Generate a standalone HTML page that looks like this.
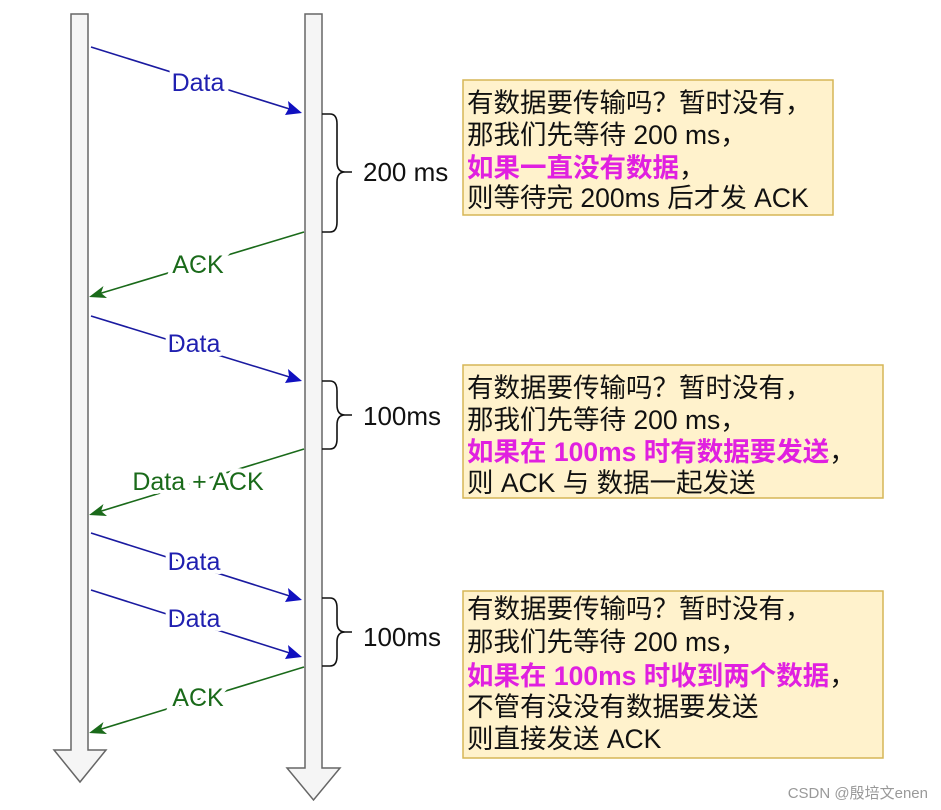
<!DOCTYPE html>
<html><head><meta charset="utf-8"><style>
html,body{margin:0;padding:0;background:#fff;}
svg{display:block;}
.lbl{font-family:"Liberation Sans",sans-serif;font-size:25px;text-anchor:middle;paint-order:stroke;stroke:#fff;stroke-width:8px;}
.t{font-family:"Liberation Sans","Noto Sans CJK SC",sans-serif;font-size:26.5px;fill:#111;}
.m{fill:#e020e0;font-weight:bold;}
.ms{font-family:"Liberation Sans",sans-serif;font-size:26px;fill:#111;}
</style></head><body>
<svg width="941" height="810" viewBox="0 0 941 810" xmlns="http://www.w3.org/2000/svg">
<!-- lifelines -->
<path d="M71,14 H88 V750 H106 L80,782 L54,750 H71 Z" fill="#f5f5f5" stroke="#666" stroke-width="1.5"/>
<path d="M305,14 H322 V768 H340 L313.5,800 L287,768 H305 Z" fill="#f5f5f5" stroke="#666" stroke-width="1.5"/>
<!-- arrows -->
<g stroke-width="1.6" fill="none">
<line x1="91" y1="47" x2="296" y2="111" stroke="#1a1aa0"/>
<line x1="304" y1="232" x2="95" y2="295" stroke="#1a6a1a"/>
<line x1="91" y1="316" x2="296" y2="379" stroke="#1a1aa0"/>
<line x1="304" y1="449" x2="95" y2="513" stroke="#1a6a1a"/>
<line x1="91" y1="533" x2="296" y2="598" stroke="#1a1aa0"/>
<line x1="91" y1="590" x2="296" y2="655" stroke="#1a1aa0"/>
<line x1="304" y1="667" x2="95" y2="731" stroke="#1a6a1a"/>
</g>
<g fill="#1010c0">
<path d="M302,113 L285,115 L289,108 L288,101z"/>
<path d="M302,381 L285,383 L289,376 L288,369z"/>
<path d="M302,600 L285,602 L289,595 L288,588z"/>
<path d="M302,657 L285,659 L289,652 L288,645z"/>
</g>
<g fill="#1a6a1a">
<path d="M89,297 L103.5,286 L101,293 L107,298z"/>
<path d="M89,515 L103.5,504 L101,511 L107,516z"/>
<path d="M89,733 L103.5,722 L101,729 L107,734z"/>
</g>
<text class="lbl" x="198" y="91" fill="#2020b0">Data</text>
<text class="lbl" x="198" y="273" fill="#1a6a1a">ACK</text>
<text class="lbl" x="194" y="352" fill="#2020b0">Data</text>
<text class="lbl" x="198" y="490" fill="#1a6a1a">Data + ACK</text>
<text class="lbl" x="194" y="570" fill="#2020b0">Data</text>
<text class="lbl" x="194" y="627" fill="#2020b0">Data</text>
<text class="lbl" x="198" y="706" fill="#1a6a1a">ACK</text>
<!-- braces -->
<g stroke="#111" stroke-width="1.6" fill="none">
<path d="M322,114 H330 Q337,114 337,124 V162 Q337,172 345,172 H352 M345,172 Q337,172 337,182 V222 Q337,232 330,232 H322"/>
<path d="M322,381 H330 Q337,381 337,391 V405 Q337,415 345,415 H352 M345,415 Q337,415 337,425 V439 Q337,449 330,449 H322"/>
<path d="M322,598 H330 Q337,598 337,608 V622 Q337,632 345,632 H352 M345,632 Q337,632 337,642 V656 Q337,666 330,666 H322"/>
</g>
<text class="ms" x="363" y="181">200 ms</text>
<text class="ms" x="363" y="425">100ms</text>
<text class="ms" x="363" y="646">100ms</text>
<!-- boxes -->
<g fill="#fff2cc" stroke="#d6b656" stroke-width="1.5">
<rect x="463" y="80" width="370" height="135"/>
<rect x="463" y="365" width="420" height="133"/>
<rect x="463" y="591" width="420" height="167"/>
</g>
<text class="t" x="467" y="112">有数据要传输吗？暂时没有，</text>
<text class="t" x="467" y="144">那我们先等待 200 ms，</text>
<text class="t" x="467" y="177"><tspan class="m">如果一直没有数据</tspan>，</text>
<text class="t" x="467" y="207">则等待完 200ms 后才发 ACK</text>

<text class="t" x="467" y="397">有数据要传输吗？暂时没有，</text>
<text class="t" x="467" y="429">那我们先等待 200 ms，</text>
<text class="t" x="467" y="461"><tspan class="m">如果在 100ms 时有数据要发送</tspan>，</text>
<text class="t" x="467" y="492">则 ACK 与 数据一起发送</text>

<text class="t" x="467" y="618">有数据要传输吗？暂时没有，</text>
<text class="t" x="467" y="651">那我们先等待 200 ms，</text>
<text class="t" x="467" y="685"><tspan class="m">如果在 100ms 时收到两个数据</tspan>，</text>
<text class="t" x="467" y="716">不管有没没有数据要发送</text>
<text class="t" x="467" y="748">则直接发送 ACK</text>

<text x="928" y="798" text-anchor="end" style="font-family:'Liberation Sans','Noto Sans CJK SC',sans-serif;font-size:15px;fill:#999">CSDN @殷培文enen</text>
</svg>
</body></html>
